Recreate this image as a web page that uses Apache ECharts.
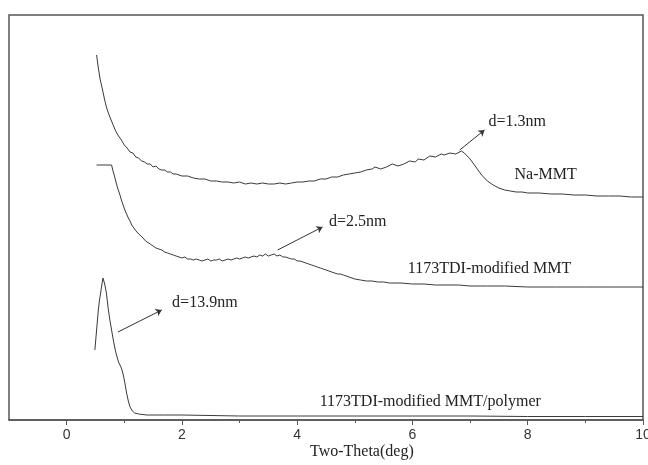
<!DOCTYPE html>
<html>
<head>
<meta charset="utf-8">
<script src="https://cdn.jsdelivr.net/npm/echarts@6/dist/echarts.min.js"></script>
<style>
  html, body { margin: 0; padding: 0; background: #fff; }
  #chart { width: 648px; height: 465px; }
</style>
</head>
<body>
<div id="chart"></div>
<script>
// Small-angle XRD patterns: [2θ (deg), intensity (a.u., offset traces)]
const naMMT = [
  [0.52,365],[0.55,352],[0.58,341],[0.62,331],[0.66,320],[0.70,311],[0.75,303],[0.80,296],
  [0.85,289],[0.90,284],[0.95,280],[1.00,275],[1.05,272],[1.10,268],[1.15,267],[1.20,263],
  [1.25,262],[1.30,259],[1.35,258],[1.40,256],[1.45,256],[1.50,253],[1.55,254],[1.60,251],
  [1.65,250],[1.70,250],[1.75,248],[1.80,248],[1.85,246],[1.90,246],[1.95,245],[2.00,244],
  [2.10,244],[2.20,242],[2.30,241],[2.40,241],[2.50,239],[2.60,239],[2.70,238],[2.80,238],
  [2.90,237],[3.00,238],[3.10,236],[3.20,237],[3.30,236],[3.40,237],[3.50,236],[3.60,236],
  [3.70,237],[3.80,236],[3.90,237],[4.00,238],[4.10,238],[4.20,239],[4.30,239],[4.40,241],
  [4.50,241],[4.60,243],[4.70,243],[4.80,245],[4.90,246],[5.00,247],[5.10,248],[5.20,250],
  [5.30,251],[5.35,253],[5.45,251],[5.55,253],[5.65,256],[5.75,254],[5.85,256],[5.95,259],
  [6.05,258],[6.10,261],[6.20,260],[6.30,264],[6.40,263],[6.50,266],[6.55,265],[6.65,267],
  [6.75,266],[6.85,269],[6.90,267],[6.95,264],[7.00,261],[7.05,257],[7.10,253],
  [7.15,249],[7.20,245],[7.25,242],[7.30,239],[7.40,235],[7.50,232],[7.60,230],[7.70,229],
  [7.80,228],[7.90,228],[8.00,227],[8.20,227],[8.40,226],[8.60,226],[8.80,225],[9.00,225],
  [9.20,224],[9.40,224],[9.60,224],[9.80,223],[10.00,223]
];

const modifiedMMT = [
  [0.52,255],[0.78,255],[0.80,250],[0.83,244],[0.86,237],[0.89,231],[0.92,226],[0.95,220],
  [0.98,215],[1.01,210],[1.04,206],[1.07,202],[1.10,199],[1.13,195],[1.16,193],[1.19,190],
  [1.22,188],[1.25,186],[1.28,184],[1.31,183],[1.34,181],[1.37,179],[1.40,178],[1.45,176],
  [1.50,174],[1.55,172],[1.60,171],[1.65,170],[1.70,168],[1.75,167],[1.80,166],[1.85,165],
  [1.90,164],[1.95,163],[2.00,162],[2.05,163],[2.10,161],[2.15,161],[2.20,160],[2.25,161],
  [2.30,160],[2.35,159],[2.40,160],[2.45,161],[2.50,159],[2.55,160],[2.60,160],[2.65,161],
  [2.70,159],[2.75,160],[2.80,161],[2.85,160],[2.90,161],[2.95,162],[3.00,161],[3.05,162],
  [3.10,163],[3.15,162],[3.20,163],[3.25,164],[3.30,163],[3.35,165],[3.40,164],[3.45,166],
  [3.50,164],[3.55,165],[3.60,166],[3.65,164],[3.70,165],[3.75,163],[3.80,163],[3.85,162],
  [3.90,161],[3.95,161],[4.00,159],[4.05,159],[4.10,158],[4.15,157],[4.20,156],[4.25,155],
  [4.30,154],[4.35,153],[4.40,152],[4.45,151],[4.50,150],[4.55,149],[4.60,148],[4.65,147],
  [4.70,146],[4.75,146],[4.80,145],[4.90,143],[5.00,141],[5.10,140],[5.20,139],[5.30,139],
  [5.40,138],[5.50,138],[5.60,137],[5.80,137],[6.00,136],[6.20,136],[6.40,135],[6.60,135],
  [6.80,135],[7.00,134],[7.30,134],[7.60,134],[8.00,133],[8.50,133],[9.00,133],[9.50,133],
  [10.00,133]
];

const modifiedPolymer = [
  [0.49,70],[0.52,90],[0.55,110],[0.57,120],[0.59,127],[0.61,135],[0.63,142],[0.645,140],
  [0.66,136],[0.69,127],[0.72,112],[0.75,100],[0.78,90],[0.81,80],[0.84,71],[0.87,64],
  [0.90,58],[0.92,56],[0.95,52],[0.98,46],[1.01,37],[1.04,27],[1.07,19],[1.10,13],
  [1.14,9],[1.18,7],[1.25,6],[1.39,5],[1.70,5],[2.00,5],[3.00,4],[4.00,4],[5.00,4],
  [6.00,4],[7.00,4],[8.00,3.5],[9.00,3.5],[10.00,3.5]
];

const seriesNames = ['Na-MMT', '1173TDI-modified MMT', '1173TDI-modified MMT/polymer'];
const xMajorTicks = [0, 2, 4, 6, 8, 10];
const xMinorTicks = [1, 3, 5, 7, 9];
const axisTitle = 'Two-Theta(deg)';

// Basal spacing callouts: arrow [from, to] and text anchor, in axis units
const spacingNotes = [
  { text: 'd=1.3nm',  from: [6.82, 270], to: [7.25, 290], at: [7.32, 298] },
  { text: 'd=2.5nm',  from: [3.66, 170], to: [4.44, 193], at: [4.55, 198] },
  { text: 'd=13.9nm', from: [0.89, 88],  to: [1.65, 110], at: [1.83, 117] }
];
// Trace name labels, in axis units
const traceLabels = [
  { text: seriesNames[0], at: [7.77, 245] },
  { text: seriesNames[1], at: [5.92, 151] },
  { text: seriesNames[2], at: [4.39, 18] }
];

const serif = 'Liberation Serif';
const ink = '#333';

const chart = echarts.init(document.getElementById('chart'), null, { renderer: 'canvas' });

function traceSeries(name, data, idx) {
  const s = {
    name: name,
    type: 'line',
    data: data,
    showSymbol: false,
    symbol: 'none',
    animation: false,
    silent: true,
    lineStyle: { color: '#3a3a3a', width: 1 }
  };
  if (idx === 0) {
    s.markLine = {
      silent: true,
      animation: false,
      symbol: ['none', 'arrow'],
      symbolSize: 6,
      label: { show: false },
      lineStyle: { color: ink, width: 1, type: 'solid' },
      data: spacingNotes.map(n => [{ coord: n.from }, { coord: n.to }])
    };
    s.markPoint = {
      silent: true,
      animation: false,
      symbol: 'circle',
      symbolSize: 0,
      label: {
        show: true,
        position: 'right',
        distance: 0,
        color: '#222',
        fontFamily: serif,
        fontSize: 16,
        formatter: p => p.name
      },
      data: spacingNotes.map(n => ({ name: n.text, coord: n.at }))
        .concat(traceLabels.map(t => ({ name: t.text, coord: t.at })))
    };
  }
  return s;
}

chart.setOption({
  backgroundColor: '#fff',
  animation: false,
  grid: {
    left: 9, right: 5, top: 15, bottom: 45,
    show: true,
    borderColor: '#555',
    borderWidth: 1.5,
    containLabel: false,
    outerBoundsMode: 'none'
  },
  xAxis: [
    {
      type: 'value',
      min: -1,
      max: 10,
      position: 'bottom',
      axisLine: { show: true, lineStyle: { color: '#555', width: 1.5 } },
      axisTick: { show: true, length: 5, customValues: xMajorTicks, lineStyle: { color: '#555' } },
      axisLabel: {
        show: true,
        customValues: xMajorTicks,
        margin: 8,
        color: '#333',
        fontFamily: 'Liberation Sans',
        fontSize: 14,
        hideOverlap: false
      },
      splitLine: { show: false }
    },
    {
      type: 'value',
      min: -1,
      max: 10,
      position: 'bottom',
      axisLine: { show: false },
      axisTick: { show: true, length: 3, customValues: xMinorTicks, lineStyle: { color: '#555' } },
      axisLabel: { show: false },
      splitLine: { show: false }
    }
  ],
  yAxis: {
    type: 'value',
    min: 0,
    max: 405,
    show: false,
    splitLine: { show: false }
  },
  graphic: [
    {
      type: 'text',
      left: 310,
      top: 444,
      silent: true,
      style: { text: axisTitle, fill: '#222', font: '16px "Liberation Serif"' }
    }
  ],
  series: [
    traceSeries(seriesNames[0], naMMT, 0),
    traceSeries(seriesNames[1], modifiedMMT, 1),
    traceSeries(seriesNames[2], modifiedPolymer, 2)
  ]
});
</script>
</body>
</html>
